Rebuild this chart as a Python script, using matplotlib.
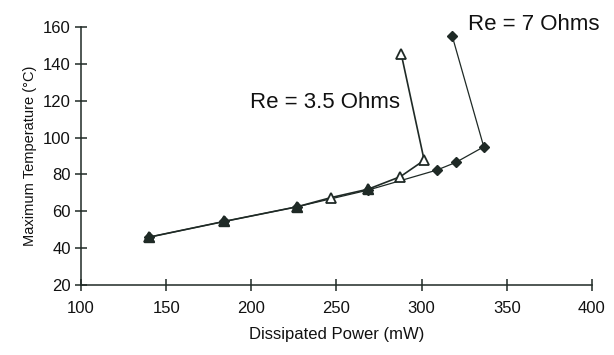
import matplotlib
matplotlib.use("Agg")
import matplotlib.pyplot as plt
import numpy as np

power_35 = [140, 184, 227, 247, 268.5, 287.5, 301.5, 288]
temp_35 = [46, 54.5, 62.5, 67.5, 72, 78.8, 87.7, 145.5]
power_7 = [140, 184, 227, 268.5, 309, 320, 336.5, 318]
temp_7 = [46, 54.5, 62.5, 71.5, 82.4, 86.5, 95, 155]
shared_idx = [0, 1, 2, 4]

xticks = [100, 150, 200, 250, 300, 350, 400]
yticks = [20, 40, 60, 80, 100, 120, 140, 160]

plt.rcParams['font.family'] = ['Liberation Sans', 'DejaVu Sans']
col = '#1f2a26'

fig = plt.figure(figsize=(6.14, 3.55), dpi=100)
ax = fig.add_axes([0.132, 0.197, 0.832, 0.727])

ax.plot(power_7, temp_7, color=col, lw=0.9, marker='D', ms=5, mfc=col, mec=col)
ax.plot(power_35, temp_35, color=col, lw=1.2, marker='^', ms=7, mfc='white', mec=col, mew=1.3)
ax.plot([power_35[i] for i in shared_idx], [temp_35[i] for i in shared_idx],
        ls='none', marker='^', ms=7, mfc=col, mec=col)

ax.set_xlim(100, 400)
ax.set_ylim(20, 160)
ax.set_xticks(xticks)
ax.set_yticks(yticks)
for s in ['top', 'right']:
    ax.spines[s].set_visible(False)
for s in ['left', 'bottom']:
    ax.spines[s].set_color(col)
    ax.spines[s].set_linewidth(1.1)
ax.tick_params(direction='inout', length=9, width=1.1, colors=col, labelsize=12, labelcolor='#111111')
ax.tick_params(axis='x', pad=7)
ax.tick_params(axis='y', pad=3)
ax.set_xlabel('Dissipated Power (mW)', fontsize=12, color='#111111', labelpad=8)
ax.set_ylabel('Maximum Temperature (\u00b0C)', fontsize=10.5, color='#111111', labelpad=4)

ax.text(327.5, 161.5, 'Re = 7 Ohms', fontsize=16, va='center', ha='left', color='#111111', clip_on=False)
ax.text(199, 119, 'Re = 3.5 Ohms', fontsize=16, va='center', ha='left', color='#111111')

fig.savefig('out.png', dpi=100)
